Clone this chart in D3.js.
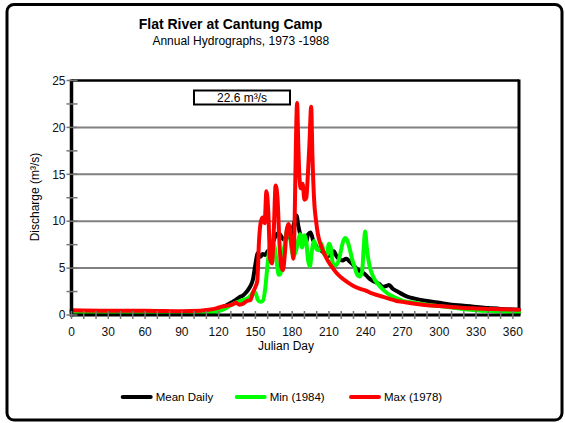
<!DOCTYPE html>
<html><head><meta charset="utf-8">
<script src="https://cdn.jsdelivr.net/npm/d3@7"></script>
<style>
body{margin:0;background:#fff;}
text{font-family:"Liberation Sans",Arial,sans-serif;}
</style></head>
<body>
<svg id="chart" width="565" height="423"></svg>
<script>
// ---- data ----
const title = "Flat River at Cantung Camp";
const subtitle = "Annual Hydrographs, 1973 -1988";
const seriesNames = ["Mean Daily", "Min (1984)", "Max (1978)"];
const seriesColors = ["#000000", "#00ff00", "#ff0000"];
const xTickLabels = [0,30,60,90,120,150,180,210,240,270,300,330,360];
const yTickLabels = [0,5,10,15,20,25];
const annotation = "22.6 m³/s";

const meanDays = [0,30,60,90,105,115,121,126,130,134,137,140,143,146,148,150,152,154,156,158,160,162,164,166,168,170,172,174,176,178,180,182,183.5,185,187,189,191,193,195,197,199,201,203,206,209,212,214,216,218,221,224,227,230,233,236,239,242,245,248,251,254,257,259,262,266,270,275,280,290,300,310,320,330,340,350,365];
const meanVals = [0.35,0.35,0.3,0.3,0.35,0.5,0.7,1.0,1.3,1.6,1.9,2.1,2.5,3.1,3.8,5.4,6.6,6.2,6.5,6.4,6.8,7.0,7.6,8.3,8.7,8.6,8.2,8.0,8.9,8.2,9.0,10.0,10.6,9.5,8.4,7.8,7.6,8.6,8.8,8.0,7.5,7.0,6.9,6.6,6.3,6.4,6.8,6.3,6.0,5.8,6.0,5.7,5.3,4.9,4.6,4.4,4.0,3.7,3.5,3.3,3.0,3.1,3.2,2.8,2.5,2.2,1.9,1.75,1.5,1.3,1.1,1.0,0.85,0.75,0.65,0.55];

const minDays = [0,30,60,90,105,112,118,124,128,132,136,140,144,147,149,150.5,152,154,156,158,160,162,164,166,167.5,169,170.5,172,174,176,177.5,179,181,183,185,186.5,188,190,191.5,193,194.5,196,198,200,202,204,206,208,210,211.5,213,215,217,219,221,223,225,227,229,231,233,235,237,238.5,239.5,241,243,246,250,255,260,265,270,280,290,300,310,320,330,345,365];
const minVals = [0.2,0.2,0.15,0.15,0.2,0.25,0.35,0.6,0.9,1.2,1.4,1.6,1.8,2.2,2.5,2.2,1.6,1.4,1.5,2.8,5.5,7.5,7.9,7.0,5.5,4.3,4.4,6.0,7.6,9.2,9.4,7.5,6.3,6.8,8.0,8.6,7.2,8.5,7.8,5.8,5.2,6.8,7.9,7.0,6.9,7.6,6.5,6.3,7.6,7.2,5.6,5.3,5.5,6.4,7.6,8.2,7.9,7.0,5.9,5.1,4.3,4.1,4.6,7.5,8.9,7.0,5.3,4.1,3.3,2.6,2.1,1.8,1.5,1.3,1.1,0.95,0.8,0.65,0.5,0.4,0.3];

const maxDays = [0,30,60,90,105,112,118,123,127,131,134,137,140,143,146,148,150,151.5,153,154.5,156,157.5,159,160.5,162,163.5,165,166.5,168,169.5,171,172.5,174,175.5,177,178.5,180,181,182,183,184,185,186,187,188.5,190,191.5,193,194,195.5,196.5,198,199.5,201,203,206,209,212,216,220,225,230,235,240,245,250,255,260,265,270,280,290,300,310,320,330,340,350,365];
const maxVals = [0.5,0.45,0.45,0.4,0.45,0.55,0.7,0.9,1.0,1.1,1.3,1.1,1.2,1.5,1.6,2.4,3.0,3.6,8.0,10.0,10.4,9.8,13.2,11.0,6.0,5.5,9.0,13.8,12.5,8.0,5.2,4.8,6.5,9.0,9.7,8.5,7.0,6.0,10,18,22.6,18,14.5,13.5,14.0,12.3,12.5,15.5,18,22.2,17,12,10,8.6,7.6,6.6,5.8,5.2,4.5,4.0,3.5,3.1,2.8,2.6,2.3,2.1,1.9,1.7,1.5,1.4,1.2,1.05,0.95,0.85,0.75,0.7,0.65,0.6,0.55];

// ---- layout ----
const svg = d3.select("#chart");
const L = 71.5, R = 519, T = 80.5, B = 315;
const x = d3.scaleLinear().domain([0,365]).range([L,R]);
const y = d3.scaleLinear().domain([0,25]).range([B,T]);

// outer frame
svg.append("rect").attr("x",7).attr("y",4.5).attr("width",555).attr("height",415.5)
  .attr("rx",7).attr("fill","#fff").attr("stroke","#000").attr("stroke-width",3);

// titles
svg.append("text").attr("x",230.5).attr("y",29).attr("text-anchor","middle")
  .attr("font-size",14).attr("font-weight","bold").text(title);
svg.append("text").attr("x",240.8).attr("y",45).attr("text-anchor","middle")
  .attr("font-size",12).text(subtitle);

// gridlines
svg.append("g").selectAll("line").data([5,10,15,20]).join("line")
  .attr("x1",L).attr("x2",R).attr("y1",d=>y(d)).attr("y2",d=>y(d))
  .attr("stroke","#808080").attr("stroke-width",2);

// frame top/right
svg.append("line").attr("x1",L).attr("x2",R).attr("y1",T).attr("y2",T).attr("stroke","#000").attr("stroke-width",2.5);
svg.append("line").attr("x1",R).attr("x2",R).attr("y1",T-1).attr("y2",B).attr("stroke","#000").attr("stroke-width",3);

// series
const series = [
  {days:meanDays, vals:meanVals},
  {days:minDays, vals:minVals},
  {days:maxDays, vals:maxVals}
];
const line = d3.line().x(d=>x(d[0])).y(d=>y(d[1])).curve(d3.curveMonotoneX);
series.forEach((s,i)=>{
  svg.append("path").datum(s.days.map((d,j)=>[d,s.vals[j]]))
    .attr("d",line).attr("fill","none").attr("stroke",seriesColors[i])
    .attr("stroke-width",4).attr("stroke-linejoin","round").attr("stroke-linecap","round");
});

// axes lines
svg.append("line").attr("x1",L).attr("x2",L).attr("y1",T-1).attr("y2",B+1.5).attr("stroke","#000").attr("stroke-width",3.5);
svg.append("line").attr("x1",L-1.5).attr("x2",R+1.5).attr("y1",B).attr("y2",B).attr("stroke","#000").attr("stroke-width",3);

// y ticks
const yTicks = d3.range(0,25.01,2.5);
svg.append("g").selectAll("line").data(yTicks).join("line")
  .attr("x1",L-5).attr("x2",L+6).attr("y1",d=>y(d)).attr("y2",d=>y(d))
  .attr("stroke","#777").attr("stroke-width",1.5);
svg.append("g").selectAll("text").data(yTickLabels).join("text")
  .attr("x",L-6).attr("y",d=>y(d)+4.2).attr("text-anchor","end").attr("font-size",12)
  .attr("fill","#111").text(d=>d);

// x ticks
const xTicks = d3.range(0,361,10);
svg.append("g").selectAll("line").data(xTicks).join("line")
  .attr("x1",d=>x(d)).attr("x2",d=>x(d)).attr("y1",B-4).attr("y2",B+4)
  .attr("stroke","#777").attr("stroke-width",1.5);
svg.append("g").selectAll("text").data(xTickLabels).join("text")
  .attr("x",d=>x(d)).attr("y",336).attr("text-anchor","middle").attr("font-size",12)
  .attr("fill","#111").text(d=>d);

// axis titles
svg.append("text").attr("x",286).attr("y",349.5).attr("text-anchor","middle")
  .attr("font-size",12).text("Julian Day");
svg.append("text").attr("transform","translate(39,197) rotate(-90)").attr("text-anchor","middle")
  .attr("font-size",12).text("Discharge (m³/s)");

// annotation box
svg.append("rect").attr("x",194).attr("y",90.5).attr("width",96).attr("height",14)
  .attr("fill","#fff").attr("stroke","#000").attr("stroke-width",2);
svg.append("text").attr("x",242).attr("y",101.8).attr("text-anchor","middle")
  .attr("font-size",12).text(annotation);

// legend
const legX = [122.7, 236.7, 351];
seriesNames.forEach((n,i)=>{
  svg.append("line").attr("x1",legX[i]).attr("x2",legX[i]+28).attr("y1",397).attr("y2",397)
    .attr("stroke",seriesColors[i]).attr("stroke-width",4).attr("stroke-linecap","round");
  svg.append("text").attr("x",legX[i]+33).attr("y",401.2).attr("font-size",11.5).text(n);
});
</script>
</body></html>
